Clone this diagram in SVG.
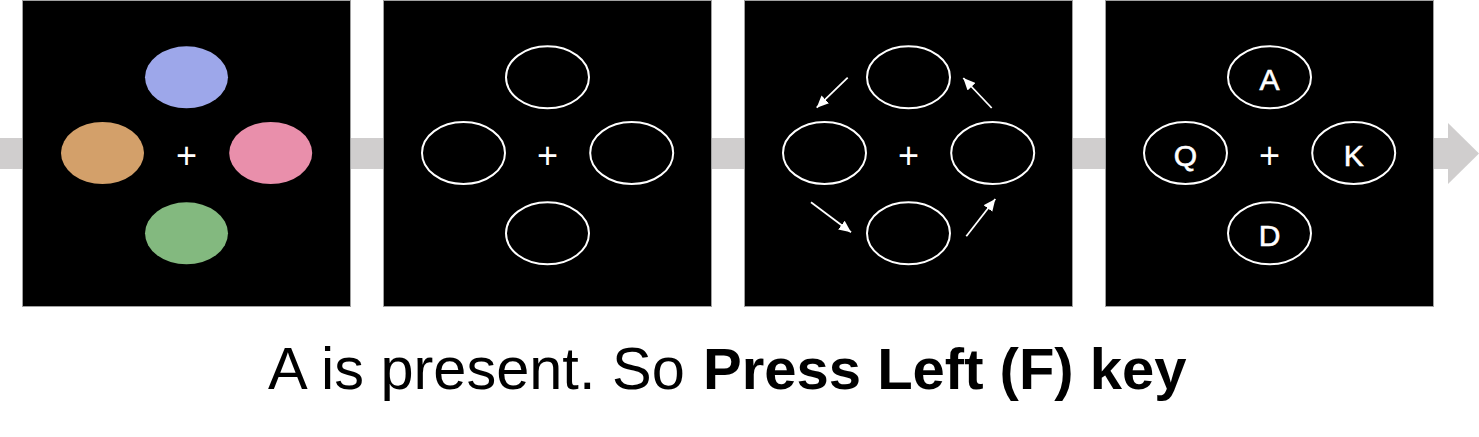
<svg xmlns="http://www.w3.org/2000/svg" width="1479" height="437" viewBox="0 0 1479 437">
<style>
.panel{fill:#000;stroke:#a0a0a0;stroke-width:1}
.ring{fill:none;stroke:#fff;stroke-width:2}
.plus{fill:#fff;font-family:"Liberation Sans",Arial,sans-serif;font-size:36px;text-anchor:middle}
.lbl{fill:#fff;font-family:"Liberation Sans",Arial,sans-serif;font-size:30px;text-anchor:middle;stroke:#fff;stroke-width:0.6}
.arr{stroke:#fff;stroke-width:1.8;fill:none;marker-end:url(#ah)}
.cap{fill:#000;font-family:"Liberation Sans",Arial,sans-serif;font-size:59.5px}
</style>
<defs>
<marker id="ah" markerUnits="userSpaceOnUse" markerWidth="13" markerHeight="11" refX="12" refY="5.5" orient="auto">
<path d="M0,0 L12,5.5 L0,11 z" fill="#fff"/>
</marker>
</defs>
<g id="timeline">
<rect x="0" y="138" width="1449" height="31" fill="#d0cece"/>
<polygon points="1448,123 1479,153.5 1448,184" fill="#d0cece"/>
</g>
<g id="panel1">
<rect class="panel" x="22.5" y="0.5" width="328" height="306"/>
<ellipse cx="186.5" cy="77.3" rx="41.5" ry="31" fill="#9da7ea"/>
<ellipse cx="102.5" cy="153" rx="41.5" ry="31" fill="#d3a06a"/>
<ellipse cx="270.7" cy="153" rx="41.5" ry="31" fill="#e98fab"/>
<ellipse cx="186.5" cy="233.3" rx="41.5" ry="31" fill="#83b97f"/>
<text class="plus" x="186.5" y="168">+</text>
</g>
<g id="panel2">
<rect class="panel" x="383.5" y="0.5" width="328" height="306"/>
<ellipse class="ring" cx="547.5" cy="77.3" rx="41.5" ry="31"/>
<ellipse class="ring" cx="463.5" cy="153" rx="41.5" ry="31"/>
<ellipse class="ring" cx="631.7" cy="153" rx="41.5" ry="31"/>
<ellipse class="ring" cx="547.5" cy="233.3" rx="41.5" ry="31"/>
<text class="plus" x="547.5" y="168">+</text>
</g>
<g id="panel3">
<rect class="panel" x="744.5" y="0.5" width="328" height="306"/>
<ellipse class="ring" cx="908.5" cy="77.3" rx="41.5" ry="31"/>
<ellipse class="ring" cx="824.5" cy="153" rx="41.5" ry="31"/>
<ellipse class="ring" cx="992.7" cy="153" rx="41.5" ry="31"/>
<ellipse class="ring" cx="908.5" cy="233.3" rx="41.5" ry="31"/>
<text class="plus" x="908.5" y="168">+</text>
</g>
<g id="panel4">
<rect class="panel" x="1105.5" y="0.5" width="328" height="306"/>
<ellipse class="ring" cx="1269.5" cy="77.3" rx="41.5" ry="31"/>
<ellipse class="ring" cx="1185.5" cy="153" rx="41.5" ry="31"/>
<ellipse class="ring" cx="1353.7" cy="153" rx="41.5" ry="31"/>
<ellipse class="ring" cx="1269.5" cy="233.3" rx="41.5" ry="31"/>
<text class="plus" x="1269.5" y="168">+</text>
<text class="lbl" x="1269.5" y="90">A</text>
<text class="lbl" x="1185.5" y="165.5">Q</text>
<text class="lbl" x="1353.7" y="165.5">K</text>
<text class="lbl" x="1269.5" y="246">D</text>
</g>
<g id="connectors">
<line class="arr" x1="847.7" y1="77.7" x2="816.7" y2="107.7"/>
<line class="arr" x1="991.7" y1="108" x2="963.3" y2="78"/>
<line class="arr" x1="811" y1="202.3" x2="851" y2="232.3"/>
<line class="arr" x1="966.3" y1="236.3" x2="995.3" y2="199"/>
</g>
<g id="caption">
<text class="cap" x="268" y="389">A is present. So <tspan x="703" font-weight="bold" font-size="58">Press Left (F) key</tspan></text>
</g>
</svg>
